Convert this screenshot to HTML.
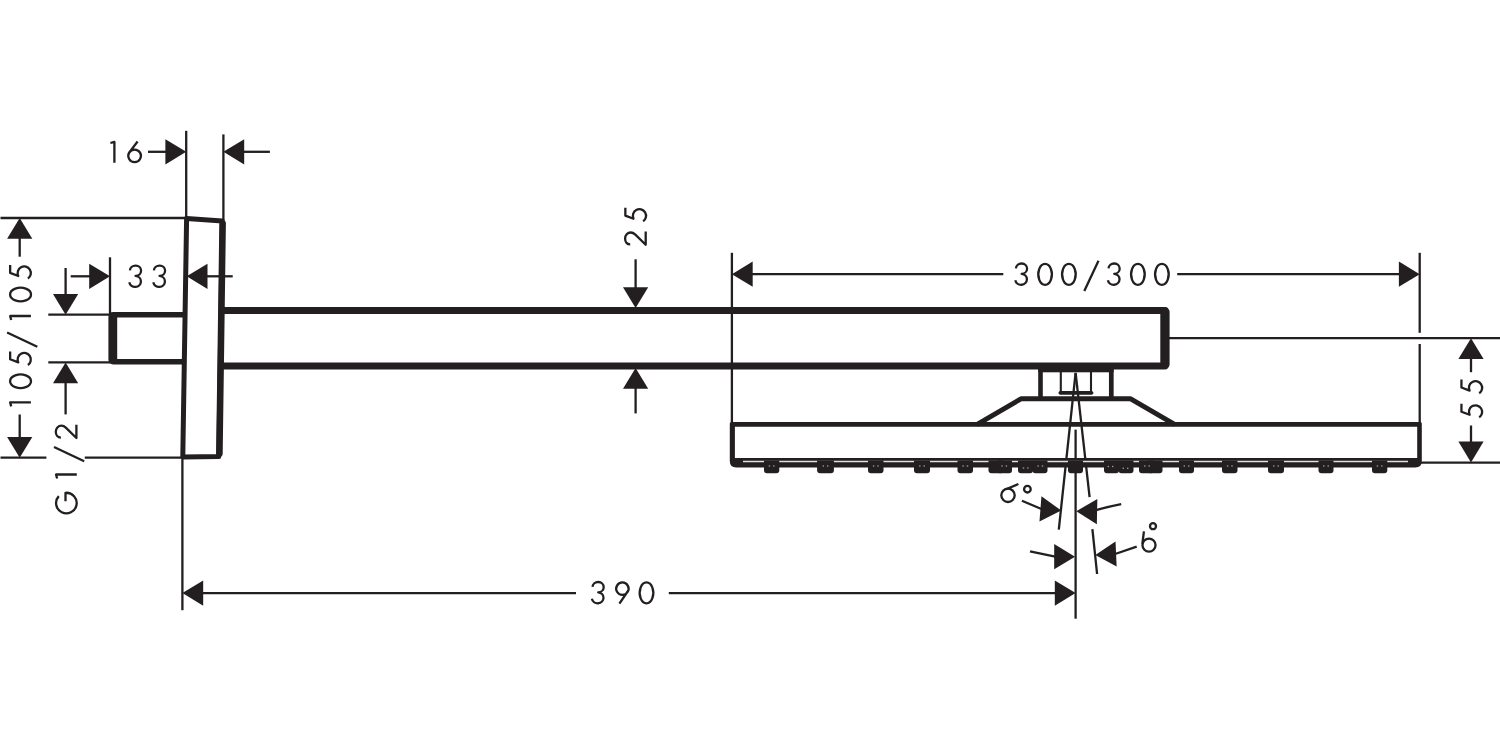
<!DOCTYPE html>
<html><head><meta charset="utf-8"><title>drawing</title>
<style>
html,body{margin:0;padding:0;background:#ffffff;width:1500px;height:750px;overflow:hidden;}
svg{display:block;}
</style></head>
<body>
<svg width="1500" height="750" viewBox="0 0 1500 750">
<rect width="1500" height="750" fill="#ffffff"/>
<g fill="none" stroke="#231f20" stroke-linecap="butt">
<line x1="0.50" y1="218.00" x2="186.00" y2="218.00" stroke-width="2.3"/>
<line x1="0.50" y1="457.70" x2="46.40" y2="457.70" stroke-width="2.3"/>
<line x1="84.80" y1="457.70" x2="183.00" y2="457.70" stroke-width="2.3"/>
<line x1="186.20" y1="130.80" x2="186.20" y2="218.00" stroke-width="2.3"/>
<line x1="223.40" y1="134.40" x2="223.40" y2="220.00" stroke-width="2.3"/>
<line x1="182.40" y1="457.00" x2="182.40" y2="610.20" stroke-width="2.3"/>
<line x1="48.30" y1="314.70" x2="110.00" y2="314.70" stroke-width="2.3"/>
<line x1="48.30" y1="362.40" x2="110.00" y2="362.40" stroke-width="2.3"/>
<line x1="110.00" y1="257.30" x2="110.00" y2="314.70" stroke-width="2.3"/>
<line x1="731.90" y1="252.80" x2="731.90" y2="423.00" stroke-width="2.3"/>
<line x1="1419.70" y1="252.80" x2="1419.70" y2="332.80" stroke-width="2.3"/>
<line x1="1419.70" y1="344.00" x2="1419.70" y2="423.00" stroke-width="2.3"/>
<line x1="1169.00" y1="338.20" x2="1500.00" y2="338.20" stroke-width="2.3"/>
<line x1="1421.00" y1="462.60" x2="1500.00" y2="462.60" stroke-width="2.3"/>
<line x1="1075.60" y1="429.60" x2="1075.60" y2="618.70" stroke-width="2.3"/>
<line x1="1075.60" y1="372.90" x2="1058.80" y2="529.60" stroke-width="2.3"/>
<line x1="1075.60" y1="372.90" x2="1089.60" y2="497.20" stroke-width="2.3"/>
<line x1="1092.40" y1="529.20" x2="1097.10" y2="574.00" stroke-width="2.3"/>
<path d="M186.20,151.80 L165.40,164.40 L165.40,139.20 Z" fill="#231f20" stroke="none"/>
<line x1="148.00" y1="151.80" x2="166.40" y2="151.80" stroke-width="2.3"/>
<path d="M223.40,151.80 L244.20,139.20 L244.20,164.40 Z" fill="#231f20" stroke="none"/>
<line x1="269.90" y1="151.80" x2="243.20" y2="151.80" stroke-width="2.3"/>
<path d="M0.4,2.2 L4.4,1.15 L4.4,21.9" transform="translate(110.00,140.80)" stroke-width="2.3" stroke-linecap="butt" stroke-linejoin="round"/>
<path d="M7.3,21.35 A6.3,6.3 0 1 1 7.31,21.35 Z M2.0,11.6 L10.3,0.7" transform="translate(127.30,140.80)" stroke-width="2.3" stroke-linecap="butt" stroke-linejoin="round"/>
<path d="M19.70,218.00 L32.30,238.80 L7.10,238.80 Z" fill="#231f20" stroke="none"/>
<line x1="19.70" y1="256.70" x2="19.70" y2="237.80" stroke-width="2.3"/>
<path d="M19.70,457.70 L7.10,436.90 L32.30,436.90 Z" fill="#231f20" stroke="none"/>
<line x1="19.70" y1="414.50" x2="19.70" y2="437.90" stroke-width="2.3"/>
<path d="M65.60,314.70 L53.00,293.90 L78.20,293.90 Z" fill="#231f20" stroke="none"/>
<line x1="65.60" y1="268.00" x2="65.60" y2="294.90" stroke-width="2.3"/>
<path d="M65.60,362.40 L78.20,383.20 L53.00,383.20 Z" fill="#231f20" stroke="none"/>
<line x1="65.60" y1="414.40" x2="65.60" y2="382.20" stroke-width="2.3"/>
<path d="M110.00,276.30 L89.20,288.90 L89.20,263.70 Z" fill="#231f20" stroke="none"/>
<line x1="70.70" y1="276.30" x2="90.20" y2="276.30" stroke-width="2.3"/>
<path d="M186.70,276.30 L207.50,263.70 L207.50,288.90 Z" fill="#231f20" stroke="none"/>
<line x1="232.70" y1="276.30" x2="206.50" y2="276.30" stroke-width="2.3"/>
<path d="M1.9,5.5 A5.6,5.15 0 1 1 7.6,11.0 A5.85,5.5 0 1 1 1.3,17.4" transform="translate(128.00,264.90)" stroke-width="2.3" stroke-linecap="butt" stroke-linejoin="round"/>
<path d="M1.9,5.5 A5.6,5.15 0 1 1 7.6,11.0 A5.85,5.5 0 1 1 1.3,17.4" transform="translate(152.00,264.90)" stroke-width="2.3" stroke-linecap="butt" stroke-linejoin="round"/>
<path d="M635.60,308.00 L623.00,287.20 L648.20,287.20 Z" fill="#231f20" stroke="none"/>
<line x1="635.60" y1="259.30" x2="635.60" y2="288.20" stroke-width="2.3"/>
<path d="M635.60,368.00 L648.20,388.80 L623.00,388.80 Z" fill="#231f20" stroke="none"/>
<line x1="635.60" y1="413.40" x2="635.60" y2="387.80" stroke-width="2.3"/>
<path d="M731.90,274.20 L752.70,261.60 L752.70,286.80 Z" fill="#231f20" stroke="none"/>
<line x1="1003.30" y1="274.20" x2="751.70" y2="274.20" stroke-width="2.3"/>
<path d="M1419.70,274.20 L1398.90,286.80 L1398.90,261.60 Z" fill="#231f20" stroke="none"/>
<line x1="1177.20" y1="274.20" x2="1399.90" y2="274.20" stroke-width="2.3"/>
<path d="M1.9,5.5 A5.6,5.15 0 1 1 7.6,11.0 A5.85,5.5 0 1 1 1.3,17.4" transform="translate(1014.00,262.80)" stroke-width="2.3" stroke-linecap="butt" stroke-linejoin="round"/>
<path d="M7.9,1.1 A6.8,10.45 0 1 1 7.89,1.1 Z" transform="translate(1037.20,262.80)" stroke-width="2.3" stroke-linecap="butt" stroke-linejoin="round"/>
<path d="M7.9,1.1 A6.8,10.45 0 1 1 7.89,1.1 Z" transform="translate(1061.00,262.80)" stroke-width="2.3" stroke-linecap="butt" stroke-linejoin="round"/>
<path d="M1.0,29.3 L15.2,-0.9" transform="translate(1083.30,261.60)" stroke-width="2.3" stroke-linecap="butt" stroke-linejoin="round"/>
<path d="M1.9,5.5 A5.6,5.15 0 1 1 7.6,11.0 A5.85,5.5 0 1 1 1.3,17.4" transform="translate(1106.60,262.80)" stroke-width="2.3" stroke-linecap="butt" stroke-linejoin="round"/>
<path d="M7.9,1.1 A6.8,10.45 0 1 1 7.89,1.1 Z" transform="translate(1130.00,262.80)" stroke-width="2.3" stroke-linecap="butt" stroke-linejoin="round"/>
<path d="M7.9,1.1 A6.8,10.45 0 1 1 7.89,1.1 Z" transform="translate(1154.00,262.80)" stroke-width="2.3" stroke-linecap="butt" stroke-linejoin="round"/>
<path d="M1471.00,338.20 L1483.60,359.00 L1458.40,359.00 Z" fill="#231f20" stroke="none"/>
<line x1="1471.00" y1="372.20" x2="1471.00" y2="358.00" stroke-width="2.3"/>
<path d="M1471.00,462.40 L1458.40,441.60 L1483.60,441.60 Z" fill="#231f20" stroke="none"/>
<line x1="1471.00" y1="425.50" x2="1471.00" y2="442.60" stroke-width="2.3"/>
<path d="M182.40,593.10 L203.20,580.50 L203.20,605.70 Z" fill="#231f20" stroke="none"/>
<line x1="576.00" y1="593.10" x2="202.20" y2="593.10" stroke-width="2.3"/>
<path d="M1075.60,593.10 L1054.80,605.70 L1054.80,580.50 Z" fill="#231f20" stroke="none"/>
<line x1="668.80" y1="593.10" x2="1055.80" y2="593.10" stroke-width="2.3"/>
<path d="M1.9,5.5 A5.6,5.15 0 1 1 7.6,11.0 A5.85,5.5 0 1 1 1.3,17.4" transform="translate(590.60,581.30)" stroke-width="2.3" stroke-linecap="butt" stroke-linejoin="round"/>
<path d="M8,1.15 A6.2,6.2 0 1 1 7.99,1.15 Z M13.9,9.2 L5.0,22.4" transform="translate(614.40,581.30)" stroke-width="2.3" stroke-linecap="butt" stroke-linejoin="round"/>
<path d="M7.9,1.1 A6.8,10.45 0 1 1 7.89,1.1 Z" transform="translate(638.60,581.30)" stroke-width="2.3" stroke-linecap="butt" stroke-linejoin="round"/>
<path d="M1061.20,510.50 L1039.48,521.44 L1041.45,496.31 Z" fill="#231f20" stroke="none"/>
<line x1="1021.90" y1="500.70" x2="1041.46" y2="508.95" stroke-width="2.3"/>
<path d="M1076.30,511.20 L1097.35,499.03 L1096.84,524.22 Z" fill="#231f20" stroke="none"/>
<path d="M1121.2,504.1 Q1108,506.6 1095,510.4" stroke-width="2.3"/>
<path d="M1075.00,556.70 L1054.20,569.30 L1054.20,544.10 Z" fill="#231f20" stroke="none"/>
<line x1="1030.00" y1="551.30" x2="1055.20" y2="556.70" stroke-width="2.3"/>
<path d="M1095.30,554.90 L1115.52,541.40 L1116.64,566.57 Z" fill="#231f20" stroke="none"/>
<line x1="1136.70" y1="546.70" x2="1115.08" y2="554.03" stroke-width="2.3"/>
<path d="M186.60,218.60 L222.40,221.00 L218.80,456.60 L182.80,457.00 Z" stroke-width="5.0" stroke-linejoin="round"/>
<line x1="222.6" y1="223.5" x2="219.4" y2="453.5" stroke-width="6.6" stroke-linecap="round"/>
<path d="M184,312.1 L113.2,312.1 Q108.4,312.1 108.4,317 L108.4,359.6 Q108.4,364.5 113.2,364.5 L184,364.5 L184,359.0 L117.2,359.0 L117.2,317.4 L184,317.4 Z" fill="#231f20" stroke="none"/>
<path d="M221.00,310.50 L1165.00,310.50 L1165.00,366.00 L221.00,366.00" stroke-width="6.8" stroke-linejoin="round"/>
<rect x="1160.3" y="307.4" width="9.3" height="61.4" rx="4.5" fill="#231f20" stroke="none"/>
<rect x="1038.2" y="366" width="75.4" height="6.3" fill="#231f20" stroke="none"/>
<line x1="1040.50" y1="368.00" x2="1040.50" y2="399.00" stroke-width="4.6"/>
<line x1="1111.30" y1="368.00" x2="1111.30" y2="399.00" stroke-width="4.7"/>
<line x1="1060.80" y1="370.00" x2="1060.80" y2="393.00" stroke-width="2.1"/>
<line x1="1091.00" y1="370.00" x2="1091.00" y2="393.00" stroke-width="2.1"/>
<path d="M1059.8,391.0 L1092,391.0 Q1095,392.9 1092,394.8 L1059.8,394.8 Q1057,392.9 1059.8,391.0 Z" fill="#231f20" stroke="none"/>
<path d="M976.80,424.60 L1021.00,398.80 L1130.70,398.80 L1175.00,424.60" stroke-width="5.0" stroke-linejoin="round"/>
<path d="M731.3,422.1 L1420.3,422.1 Q1421.8,422.1 1421.8,423.6 L1421.8,461.1 Q1421.8,467.6 1415.3,467.6 L736.3,467.6 Q729.8,467.6 729.8,461.1 L729.8,423.6 Q729.8,422.1 731.3,422.1 Z M734.9,426.8 L1417.2,426.8 L1417.2,458.1 L734.9,458.1 Z" fill="#231f20" fill-rule="evenodd" stroke="none"/>
<line x1="743" y1="461.5" x2="1408" y2="461.5" stroke="#e0e0e0" stroke-width="1.5"/>
<path d="M764.00,460.4 L779.30,460.4 L779.30,470.3 Q779.30,473.3 776.30,473.3 L767.00,473.3 Q764.00,473.3 764.00,470.3 Z" fill="#231f20" stroke="none"/>
<path d="M817.10,460.4 L833.90,460.4 L833.90,470.3 Q833.90,473.3 830.90,473.3 L820.10,473.3 Q817.10,473.3 817.10,470.3 Z" fill="#231f20" stroke="none"/>
<path d="M868.00,460.4 L883.50,460.4 L883.50,470.3 Q883.50,473.3 880.50,473.3 L871.00,473.3 Q868.00,473.3 868.00,470.3 Z" fill="#231f20" stroke="none"/>
<path d="M914.00,460.4 L930.00,460.4 L930.00,470.3 Q930.00,473.3 927.00,473.3 L917.00,473.3 Q914.00,473.3 914.00,470.3 Z" fill="#231f20" stroke="none"/>
<path d="M957.50,460.4 L973.00,460.4 L973.00,470.3 Q973.00,473.3 970.00,473.3 L960.50,473.3 Q957.50,473.3 957.50,470.3 Z" fill="#231f20" stroke="none"/>
<path d="M988.50,460.4 L1003.50,460.4 L1003.50,470.3 Q1003.50,473.3 1000.50,473.3 L991.50,473.3 Q988.50,473.3 988.50,470.3 Z" fill="#231f20" stroke="none"/>
<path d="M997.00,460.4 L1012.00,460.4 L1012.00,470.3 Q1012.00,473.3 1009.00,473.3 L1000.00,473.3 Q997.00,473.3 997.00,470.3 Z" fill="#231f20" stroke="none"/>
<path d="M1018.00,460.4 L1033.00,460.4 L1033.00,470.3 Q1033.00,473.3 1030.00,473.3 L1021.00,473.3 Q1018.00,473.3 1018.00,470.3 Z" fill="#231f20" stroke="none"/>
<path d="M1032.50,460.4 L1047.50,460.4 L1047.50,470.3 Q1047.50,473.3 1044.50,473.3 L1035.50,473.3 Q1032.50,473.3 1032.50,470.3 Z" fill="#231f20" stroke="none"/>
<path d="M1068.00,460.4 L1083.00,460.4 L1083.00,470.3 Q1083.00,473.3 1080.00,473.3 L1071.00,473.3 Q1068.00,473.3 1068.00,470.3 Z" fill="#231f20" stroke="none"/>
<path d="M1104.00,460.4 L1119.00,460.4 L1119.00,470.3 Q1119.00,473.3 1116.00,473.3 L1107.00,473.3 Q1104.00,473.3 1104.00,470.3 Z" fill="#231f20" stroke="none"/>
<path d="M1118.50,460.4 L1133.50,460.4 L1133.50,470.3 Q1133.50,473.3 1130.50,473.3 L1121.50,473.3 Q1118.50,473.3 1118.50,470.3 Z" fill="#231f20" stroke="none"/>
<path d="M1139.00,460.4 L1154.00,460.4 L1154.00,470.3 Q1154.00,473.3 1151.00,473.3 L1142.00,473.3 Q1139.00,473.3 1139.00,470.3 Z" fill="#231f20" stroke="none"/>
<path d="M1147.50,460.4 L1162.50,460.4 L1162.50,470.3 Q1162.50,473.3 1159.50,473.3 L1150.50,473.3 Q1147.50,473.3 1147.50,470.3 Z" fill="#231f20" stroke="none"/>
<path d="M1179.00,460.4 L1194.00,460.4 L1194.00,470.3 Q1194.00,473.3 1191.00,473.3 L1182.00,473.3 Q1179.00,473.3 1179.00,470.3 Z" fill="#231f20" stroke="none"/>
<path d="M1222.00,460.4 L1237.50,460.4 L1237.50,470.3 Q1237.50,473.3 1234.50,473.3 L1225.00,473.3 Q1222.00,473.3 1222.00,470.3 Z" fill="#231f20" stroke="none"/>
<path d="M1268.00,460.4 L1284.00,460.4 L1284.00,470.3 Q1284.00,473.3 1281.00,473.3 L1271.00,473.3 Q1268.00,473.3 1268.00,470.3 Z" fill="#231f20" stroke="none"/>
<path d="M1318.50,460.4 L1333.50,460.4 L1333.50,470.3 Q1333.50,473.3 1330.50,473.3 L1321.50,473.3 Q1318.50,473.3 1318.50,470.3 Z" fill="#231f20" stroke="none"/>
<path d="M1372.00,460.4 L1387.30,460.4 L1387.30,470.3 Q1387.30,473.3 1384.30,473.3 L1375.00,473.3 Q1372.00,473.3 1372.00,470.3 Z" fill="#231f20" stroke="none"/>
<rect x="768.70" y="465.35" width="1.4" height="1.3" fill="#9a9a9a" stroke="none"/>
<rect x="773.10" y="465.35" width="1.4" height="1.3" fill="#9a9a9a" stroke="none"/>
<rect x="822.60" y="465.35" width="1.4" height="1.3" fill="#9a9a9a" stroke="none"/>
<rect x="827.00" y="465.35" width="1.4" height="1.3" fill="#9a9a9a" stroke="none"/>
<rect x="872.90" y="465.35" width="1.4" height="1.3" fill="#9a9a9a" stroke="none"/>
<rect x="877.30" y="465.35" width="1.4" height="1.3" fill="#9a9a9a" stroke="none"/>
<rect x="919.10" y="465.35" width="1.4" height="1.3" fill="#9a9a9a" stroke="none"/>
<rect x="923.50" y="465.35" width="1.4" height="1.3" fill="#9a9a9a" stroke="none"/>
<rect x="962.40" y="465.35" width="1.4" height="1.3" fill="#9a9a9a" stroke="none"/>
<rect x="966.80" y="465.35" width="1.4" height="1.3" fill="#9a9a9a" stroke="none"/>
<rect x="1001.30" y="465.35" width="1.4" height="1.3" fill="#9a9a9a" stroke="none"/>
<rect x="1005.70" y="465.35" width="1.4" height="1.3" fill="#9a9a9a" stroke="none"/>
<rect x="1022.80" y="467.35" width="1.4" height="1.3" fill="#9a9a9a" stroke="none"/>
<rect x="1027.20" y="467.35" width="1.4" height="1.3" fill="#9a9a9a" stroke="none"/>
<rect x="1037.40" y="465.35" width="1.4" height="1.3" fill="#9a9a9a" stroke="none"/>
<rect x="1041.80" y="465.35" width="1.4" height="1.3" fill="#9a9a9a" stroke="none"/>
<rect x="1107.60" y="465.85" width="1.4" height="1.3" fill="#9a9a9a" stroke="none"/>
<rect x="1112.00" y="465.85" width="1.4" height="1.3" fill="#9a9a9a" stroke="none"/>
<rect x="1122.60" y="467.65" width="1.4" height="1.3" fill="#9a9a9a" stroke="none"/>
<rect x="1127.00" y="467.65" width="1.4" height="1.3" fill="#9a9a9a" stroke="none"/>
<rect x="1144.10" y="465.35" width="1.4" height="1.3" fill="#9a9a9a" stroke="none"/>
<rect x="1148.50" y="465.35" width="1.4" height="1.3" fill="#9a9a9a" stroke="none"/>
<rect x="1183.60" y="465.35" width="1.4" height="1.3" fill="#9a9a9a" stroke="none"/>
<rect x="1188.00" y="465.35" width="1.4" height="1.3" fill="#9a9a9a" stroke="none"/>
<rect x="1226.90" y="465.35" width="1.4" height="1.3" fill="#9a9a9a" stroke="none"/>
<rect x="1231.30" y="465.35" width="1.4" height="1.3" fill="#9a9a9a" stroke="none"/>
<rect x="1273.10" y="465.35" width="1.4" height="1.3" fill="#9a9a9a" stroke="none"/>
<rect x="1277.50" y="465.35" width="1.4" height="1.3" fill="#9a9a9a" stroke="none"/>
<rect x="1323.10" y="465.35" width="1.4" height="1.3" fill="#9a9a9a" stroke="none"/>
<rect x="1327.50" y="465.35" width="1.4" height="1.3" fill="#9a9a9a" stroke="none"/>
<rect x="1376.70" y="465.35" width="1.4" height="1.3" fill="#9a9a9a" stroke="none"/>
<rect x="1381.10" y="465.35" width="1.4" height="1.3" fill="#9a9a9a" stroke="none"/>
<circle cx="1008.0" cy="495.3" r="6.7" stroke-width="2.3"/>
<line x1="1006.0" y1="489.3" x2="1018.4" y2="484.0" stroke-width="2.3"/>
<circle cx="1027.4" cy="489.2" r="3.3" stroke-width="2.3"/>
<circle cx="1149.0" cy="545.1" r="6.55" stroke-width="2.3"/>
<line x1="1142.4" y1="544" x2="1143.9" y2="531.3" stroke-width="2.3"/>
<circle cx="1153.0" cy="526.2" r="3.0" stroke-width="2.3"/>
<path d="M0.4,2.2 L4.4,1.15 L4.4,21.9" transform="translate(9.00,406.80) rotate(-90)" stroke-width="2.3" stroke-linecap="butt" stroke-linejoin="round"/>
<path d="M7.9,1.1 A6.8,10.45 0 1 1 7.89,1.1 Z" transform="translate(9.00,389.20) rotate(-90)" stroke-width="2.3" stroke-linecap="butt" stroke-linejoin="round"/>
<path d="M14.8,1.15 L6.9,1.15 L3.8,9.3 A6.6,6.6 0 1 1 1.2,18.9" transform="translate(9.00,366.20) rotate(-90)" stroke-width="2.3" stroke-linecap="butt" stroke-linejoin="round"/>
<path d="M1.0,29.3 L15.2,-0.9" transform="translate(8.00,347.70) rotate(-90)" stroke-width="2.3" stroke-linecap="butt" stroke-linejoin="round"/>
<path d="M0.4,2.2 L4.4,1.15 L4.4,21.9" transform="translate(9.00,320.40) rotate(-90)" stroke-width="2.3" stroke-linecap="butt" stroke-linejoin="round"/>
<path d="M7.9,1.1 A6.8,10.45 0 1 1 7.89,1.1 Z" transform="translate(9.00,302.35) rotate(-90)" stroke-width="2.3" stroke-linecap="butt" stroke-linejoin="round"/>
<path d="M14.8,1.15 L6.9,1.15 L3.8,9.3 A6.6,6.6 0 1 1 1.2,18.9" transform="translate(9.00,279.75) rotate(-90)" stroke-width="2.3" stroke-linecap="butt" stroke-linejoin="round"/>
<path d="M18.2,4.9 A10.3,10.3 0 1 0 21.5,11.6 L13.0,11.6" transform="translate(53.90,514.30) rotate(-90)" stroke-width="2.3" stroke-linecap="butt" stroke-linejoin="round"/>
<path d="M0.4,2.2 L4.4,1.15 L4.4,21.9" transform="translate(54.90,478.90) rotate(-90)" stroke-width="2.3" stroke-linecap="butt" stroke-linejoin="round"/>
<path d="M1.0,29.3 L15.2,-0.9" transform="translate(54.90,462.20) rotate(-90)" stroke-width="2.3" stroke-linecap="butt" stroke-linejoin="round"/>
<path d="M1.8,6.0 C1.8,2.6 4.5,0.9 7.6,0.9 C10.9,0.9 13.7,3.3 13.7,6.6 C13.7,8.3 13.0,9.6 11.8,10.9 L1.4,21.5 L14.6,21.5" transform="translate(54.90,439.40) rotate(-90)" stroke-width="2.3" stroke-linecap="butt" stroke-linejoin="round"/>
<path d="M1.8,6.0 C1.8,2.6 4.5,0.9 7.6,0.9 C10.9,0.9 13.7,3.3 13.7,6.6 C13.7,8.3 13.0,9.6 11.8,10.9 L1.4,21.5 L14.6,21.5" transform="translate(624.20,246.20) rotate(-90)" stroke-width="2.3" stroke-linecap="butt" stroke-linejoin="round"/>
<path d="M14.8,1.15 L6.9,1.15 L3.8,9.3 A6.6,6.6 0 1 1 1.2,18.9" transform="translate(624.20,222.50) rotate(-90)" stroke-width="2.3" stroke-linecap="butt" stroke-linejoin="round"/>
<path d="M14.8,1.15 L6.9,1.15 L3.8,9.3 A6.6,6.6 0 1 1 1.2,18.9" transform="translate(1460.30,418.60) rotate(-90)" stroke-width="2.3" stroke-linecap="butt" stroke-linejoin="round"/>
<path d="M14.8,1.15 L6.9,1.15 L3.8,9.3 A6.6,6.6 0 1 1 1.2,18.9" transform="translate(1460.30,394.40) rotate(-90)" stroke-width="2.3" stroke-linecap="butt" stroke-linejoin="round"/>
</g>
</svg>
</body></html>
